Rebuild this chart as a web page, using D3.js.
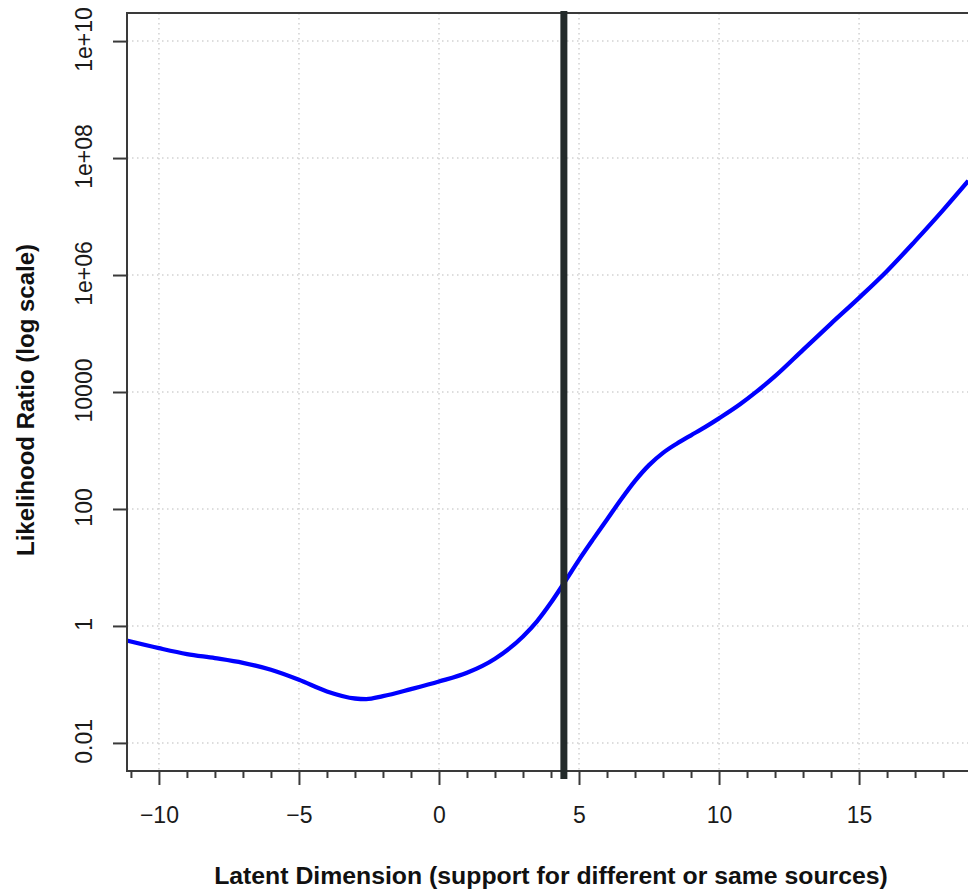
<!DOCTYPE html>
<html>
<head>
<meta charset="utf-8">
<script src="https://cdn.jsdelivr.net/npm/d3@7"></script>
<style>
  body { margin: 0; background: #fff; }
  text { font-family: "Liberation Sans", Arial, Helvetica, sans-serif; }
</style>
</head>
<body>
<div id="chart"></div>
<script>
// latent dimension (x) and likelihood ratio
var latent = [-11.15, -10, -9, -8, -7, -6, -5, -4, -3, -2.6, -2, -1, 0, 1, 2, 3, 3.5, 4, 4.5,
    5, 5.5, 6, 6.5, 7, 7.5, 8, 8.5, 9, 9.5, 10, 10.75, 11.35, 12, 13, 14, 15, 16, 17, 18, 18.9];
var likelihood = [0.562, 0.417, 0.331, 0.282, 0.234, 0.178, 0.120, 0.0759, 0.0575, 0.0562, 0.0631,
    0.0832, 0.112, 0.158, 0.275, 0.661, 1.20, 2.51, 5.75,
    13.5, 30.2, 66.1, 145, 302, 562, 912, 1318, 1820, 2512, 3548, 6166, 10233, 18621,
    52481, 147911, 407380, 1174898, 3801894, 12882496, 40738028];

var x_ticks = [-10, -5, 0, 5, 10, 15];
var y_ticks = [0.01, 1, 100, 10000, 1e6, 1e8, 1e10];
var y_labels = ["0.01", "1", "100", "10000", "1e+06", "1e+08", "1e+10"];
var cutoff = 4.46;

var chart_width = 968;
var chart_height = 890;
var plot_left = 127, plot_right = 975, plot_top = 13, plot_bottom = 771;

var svg = d3.select('#chart')
    .append('svg')
    .attr('width', chart_width)
    .attr('height', chart_height)

svg.append('rect')
    .attr('width', chart_width)
    .attr('height', chart_height)
    .attr('fill', 'white')

var x = d3.scaleLinear()
    .domain([-11.14, 19.14])
    .range([plot_left, plot_right])

var y = d3.scaleLog()
    .domain([Math.pow(10, -2.48), Math.pow(10, 10.48)])
    .range([plot_bottom, plot_top])

svg.append('clipPath').attr('id', 'plotclip')
    .append('rect')
    .attr('x', plot_left).attr('y', plot_top)
    .attr('width', plot_right - plot_left).attr('height', plot_bottom - plot_top)

// dotted grid
var grid = svg.append('g')
    .attr('stroke', '#d2d2d2')
    .attr('stroke-width', 1.5)
    .attr('stroke-dasharray', '1.5,3.5')

grid.selectAll('.gx')
    .data(x_ticks)
    .enter()
    .append('line')
    .attr('x1', function (d) { return x(d); })
    .attr('x2', function (d) { return x(d); })
    .attr('y1', plot_top)
    .attr('y2', plot_bottom)

grid.selectAll('.gy')
    .data(y_ticks)
    .enter()
    .append('line')
    .attr('x1', plot_left)
    .attr('x2', plot_right)
    .attr('y1', function (d) { return y(d); })
    .attr('y2', function (d) { return y(d); })

// curve
var line = d3.line()
    .x(function (d, i) { return x(latent[i]); })
    .y(function (d) { return y(d); })
    .curve(d3.curveMonotoneX)

svg.append('path')
    .datum(likelihood)
    .attr('clip-path', 'url(#plotclip)')
    .attr('fill', 'none')
    .attr('stroke', '#0000ff')
    .attr('stroke-width', 4.3)
    .attr('stroke-linejoin', 'round')
    .attr('d', line)

// box
svg.append('rect')
    .attr('x', plot_left)
    .attr('y', plot_top)
    .attr('width', plot_right - plot_left)
    .attr('height', plot_bottom - plot_top)
    .attr('fill', 'none')
    .attr('stroke', '#3a3a3a')
    .attr('stroke-width', 2)

// x axis: major ticks every 5, minor every 1
var xAxis = d3.axisBottom(x)
    .tickValues(x_ticks)
    .tickSize(14)
    .tickPadding(22)
    .tickFormat(function (d) { return d < 0 ? '\u2212' + Math.abs(d) : d; })

var gx = svg.append('g')
    .attr('transform', 'translate(0,' + plot_bottom + ')')
    .call(xAxis)
gx.select('.domain').remove()
gx.selectAll('line').attr('stroke', '#3a3a3a').attr('stroke-width', 2)
gx.selectAll('text')
    .attr('fill', '#1a1a1a')
    .style('font-size', '23px')

var minor = d3.range(-11, 20).filter(function (d) { return d % 5 !== 0; })
var gm = svg.append('g')
    .attr('transform', 'translate(0,' + plot_bottom + ')')
    .call(d3.axisBottom(x).tickValues(minor).tickSize(7).tickFormat(''))
gm.select('.domain').remove()
gm.selectAll('line').attr('stroke', '#3a3a3a').attr('stroke-width', 2)

// y axis with rotated labels
var yAxis = d3.axisLeft(y)
    .tickValues(y_ticks)
    .tickSize(14)
    .tickFormat(function (d, i) { return y_labels[i]; })

var gy = svg.append('g')
    .attr('transform', 'translate(' + plot_left + ',0)')
    .call(yAxis)
gy.select('.domain').remove()
gy.selectAll('line').attr('stroke', '#3a3a3a').attr('stroke-width', 2)
gy.selectAll('text')
    .attr('fill', '#1a1a1a')
    .style('font-size', '23px')
    .attr('text-anchor', 'middle')
    .attr('dy', null)
    .attr('x', null)
    .attr('transform', 'translate(-35,-2) rotate(-90)')

// cutoff line
svg.append('line')
    .attr('x1', x(cutoff))
    .attr('x2', x(cutoff))
    .attr('y1', plot_top - 2)
    .attr('y2', plot_bottom + 8)
    .attr('stroke', '#232a2a')
    .attr('stroke-width', 7)

// axis titles
svg.append('text')
    .attr('x', (plot_left + plot_right) / 2)
    .attr('y', 884)
    .attr('text-anchor', 'middle')
    .attr('font-weight', 'bold')
    .style('font-size', '24.8px')
    .attr('fill', '#111')
    .text('Latent Dimension (support for different or same sources)')

svg.append('text')
    .attr('transform', 'translate(34,400) rotate(-90)')
    .attr('text-anchor', 'middle')
    .attr('font-weight', 'bold')
    .style('font-size', '24px')
    .attr('fill', '#111')
    .text('Likelihood Ratio (log scale)')
</script>
</body>
</html>
